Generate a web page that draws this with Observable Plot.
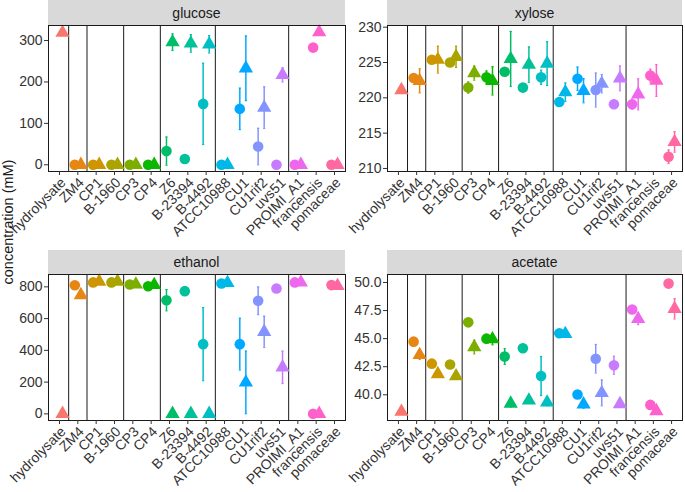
<!DOCTYPE html>
<html>
<head>
<meta charset="utf-8">
<script src="https://cdn.jsdelivr.net/npm/d3@7"></script>
<script src="https://cdn.jsdelivr.net/npm/@observablehq/plot@0.6"></script>
<style>
  body { margin: 0; background: #ffffff; }
  #chart { position: relative; width: 685px; height: 492px; font-family: "Liberation Sans", Arial, sans-serif; overflow: hidden; }
  .strip { position: absolute; background: #d9d9d9; color: #1a1a1a; font-size: 14px; text-align: center; display: flex; align-items: center; justify-content: center; }
  .panel { position: absolute; }
  .panel svg { overflow: visible; }
  .ytitle { position: absolute; width: 220px; text-align: center; font-size: 14.5px; line-height: 16px; color: #1a1a1a; transform: rotate(-90deg); }
</style>
</head>
<body>
<div id="chart"></div>
<script>
// ---- data ----
const categories = ["hydrolysate", "ZM4", "CP1", "B-1960", "CP3", "CP4", "Z6", "B-23394", "B-4492",
  "ATCC10988", "CU1", "CU1rif2", "uvs51", "PROIMI_A1", "francensis", "pomaceae"];
const categoryColors = ["#F8766D", "#E68613", "#CD9600", "#ABA300", "#7CAE00", "#0CB702", "#00BE67", "#00C19A",
  "#00BFC4", "#00B8E7", "#00A9FF", "#8494FF", "#C77CFF", "#ED68ED", "#FF61CC", "#FF68A1"];
const groupBreaks = [1.5, 2.5, 4.5, 6.5, 9.5, 13.5];

const glucoseCircle    = [null, 0, 0, 0, 0, 0, 33, 14, 147, 0, 135, 44, 0, 0, 283, 0];
const glucoseCircleErr = [null, 0, 0, 0, 0, 0, 34, 3, 98, 0, 50, 44, 0, 0, 0, 0];
const glucoseTri       = [319, 0, 0, 0, 0, 0, 296, 293, 291, 0, 233, 138, 217, 0, 320, 0];
const glucoseTriErr    = [0, 0, 0, 0, 0, 0, 20, 21, 21, 0, 78, 50, 17, 0, 0, 0];
const glucoseTicks = [0, 100, 200, 300];

const xyloseCircle    = [null, 222.8, 225.4, 225.0, 221.45, 222.9, 223.7, 221.45, 222.9, 219.4, 222.7, 221.1, 219.1, 219.1, 223.15, 211.66];
const xyloseCircleErr = [null, 0.6, 0.5, 0.4, 0.8, 0.9, 0.5, 0.4, 1.0, 0.4, 1.65, 2.4, 0.6, 0.7, 0.9, 0.95];
const xyloseTri       = [221.1, 222.4, 225.4, 225.8, 223.5, 222.4, 225.5, 224.7, 224.85, 220.8, 221.0, 222.0, 222.75, 220.5, 222.45, 213.75];
const xyloseTriErr    = [0.3, 1.7, 1.9, 1.5, 1.0, 2.0, 3.9, 2.5, 3.1, 1.3, 1.7, 1.3, 1.75, 2.2, 2.25, 1.45];
const xyloseTicks = [210, 215, 220, 225, 230];

const ethanolCircle    = [null, 810, 828, 828, 815, 804, 716, 773, 439, 821, 439, 712, 790, 828, 0, 811];
const ethanolCircleErr = [null, 10, 5, 5, 5, 5, 67, 10, 230, 5, 163, 87, 10, 5, 0, 5];
const ethanolTri       = [0, 748, 833, 833, 815, 812, 0, 0, 0, 825, 198, 517, 293, 828, 0, 806];
const ethanolTriErr    = [0, 10, 5, 5, 5, 5, 0, 0, 0, 5, 197, 98, 102, 5, 0, 5];
const ethanolTicks = [0, 200, 400, 600, 800];

const acetateCircle    = [null, 44.73, 42.77, 42.7, 46.45, 45.0, 43.4, 44.14, 41.67, 45.48, 40.03, 43.21, 42.62, 47.6, 39.1, 49.9];
const acetateCircleErr = [null, 0.2, 0.2, 0.2, 0.2, 0.2, 0.7, 0.2, 1.74, 0.2, 0.2, 1.27, 0.8, 0.3, 0.2, 0.2];
const acetateTri       = [38.5, 43.55, 41.85, 41.65, 44.25, 44.95, 39.22, 39.5, 39.32, 45.42, 39.15, 40.17, 39.17, 46.75, 38.55, 47.65];
const acetateTriErr    = [0.2, 0.4, 0.2, 0.2, 0.6, 0.5, 0.3, 0.2, 0.3, 0.3, 0.35, 1.15, 0.2, 0.5, 0.2, 0.9];
const acetateTicks = [40, 42.5, 45, 47.5, 50];

// ---- build ----
const chart = document.getElementById("chart");
const DODGE = 0.165;

function rowsFrom(vals, errs, offset) {
  const rows = [];
  vals.forEach((v, i) => {
    if (v === null) return;
    rows.push({idx: i + 1, x: i + 1 + offset, v, e: errs[i] || 0, color: categoryColors[i]});
  });
  return rows;
}

function addPanel(cfg) {
  const strip = document.createElement("div");
  strip.className = "strip";
  strip.style.left = cfg.panelLeft + "px";
  strip.style.top = cfg.stripTop + "px";
  strip.style.width = cfg.panelWidth + "px";
  strip.style.height = cfg.stripHeight + "px";
  strip.textContent = cfg.title;
  chart.appendChild(strip);

  const circles = rowsFrom(cfg.circle, cfg.circleErr, -DODGE);
  const tris = rowsFrom(cfg.tri, cfg.triErr, DODGE);
  const all = circles.concat(tris).filter(d => d.e > 0);

  const marginLeft = cfg.panelLeft - cfg.svgLeft;
  const width = marginLeft + cfg.panelWidth + 1;
  const marginBottom = 70;
  const plot = Plot.plot({
    width,
    height: cfg.panelHeight + marginBottom,
    marginLeft,
    marginRight: 1,
    marginTop: 0,
    marginBottom,
    style: {fontFamily: "'Liberation Sans', Arial, sans-serif", fontSize: "14px", color: "#333", background: "transparent", overflow: "visible"},
    x: {type: "linear", domain: [0.4, 16.6], axis: null},
    y: {domain: cfg.domain, axis: null},
    color: {type: "identity"},
    marks: [
      Plot.ruleX(groupBreaks, {stroke: "#1a1a1a", strokeWidth: 1}),
      Plot.ruleX(all, {x: "x", y1: d => d.v - d.e, y2: d => d.v + d.e, stroke: "color", strokeWidth: 1.5}),
      Plot.link(all, {x1: d => d.x - 0.06, x2: d => d.x + 0.06, y1: d => d.v + d.e, y2: d => d.v + d.e, stroke: "color", strokeWidth: 1.2}),
      Plot.link(all, {x1: d => d.x - 0.06, x2: d => d.x + 0.06, y1: d => d.v - d.e, y2: d => d.v - d.e, stroke: "color", strokeWidth: 1.2}),
      Plot.dot(circles, {x: "x", y: "v", fill: "color", r: 5.3, symbol: "circle", stroke: null}),
      Plot.dot(tris, {x: "x", y: "v", fill: "color", r: 5.3, symbol: "triangle", stroke: null}),
      Plot.frame({stroke: "#1a1a1a", strokeWidth: 1}),
      Plot.axisY({ticks: cfg.ticks, tickFormat: cfg.fmt, tickSize: 4, tickPadding: 2, fontSize: 14, color: "#333", label: null}),
      Plot.axisX({ticks: d3.range(1, 17), tickFormat: () => "", tickSize: 4, color: "#333", label: null}),
      Plot.text(d3.range(1, 17), {x: d => d, text: d => categories[d - 1], frameAnchor: "bottom", dy: 5,
        rotate: -45, textAnchor: "end", lineAnchor: "top", fill: "#333", fontSize: 14})
    ]
  });
  const holder = document.createElement("div");
  holder.className = "panel";
  holder.style.left = cfg.svgLeft + "px";
  holder.style.top = cfg.panelTop + "px";
  holder.appendChild(plot);
  chart.appendChild(holder);
}

const fmt1 = d => d3.format(".1f")(d);
const fmt0 = d => String(d);

addPanel({title: "glucose", circle: glucoseCircle, circleErr: glucoseCircleErr, tri: glucoseTri, triErr: glucoseTriErr,
  domain: [-16.2, 336.3], ticks: glucoseTicks, fmt: fmt0,
  svgLeft: 0, panelLeft: 48, panelWidth: 297, stripTop: 0, stripHeight: 25, panelTop: 25, panelHeight: 146});
addPanel({title: "xylose", circle: xyloseCircle, circleErr: xyloseCircleErr, tri: xyloseTri, triErr: xyloseTriErr,
  domain: [209.57, 230.24], ticks: xyloseTicks, fmt: fmt0,
  svgLeft: 340, panelLeft: 387, panelWidth: 295, stripTop: 0, stripHeight: 25, panelTop: 25, panelHeight: 146});
addPanel({title: "ethanol", circle: ethanolCircle, circleErr: ethanolCircleErr, tri: ethanolTri, triErr: ethanolTriErr,
  domain: [-41.8, 877.8], ticks: ethanolTicks, fmt: fmt0,
  svgLeft: 0, panelLeft: 48, panelWidth: 297, stripTop: 250, stripHeight: 24, panelTop: 274, panelHeight: 146});
addPanel({title: "acetate", circle: acetateCircle, circleErr: acetateCircleErr, tri: acetateTri, triErr: acetateTriErr,
  domain: [37.71, 50.71], ticks: acetateTicks, fmt: fmt1,
  svgLeft: 340, panelLeft: 387, panelWidth: 295, stripTop: 250, stripHeight: 24, panelTop: 274, panelHeight: 146});

const yt = document.createElement("div");
yt.className = "ytitle";
yt.textContent = "concentration (mM)";
yt.style.left = (8 - 110) + "px";
yt.style.top = (222 - 8) + "px";
chart.appendChild(yt);
</script>
</body>
</html>
